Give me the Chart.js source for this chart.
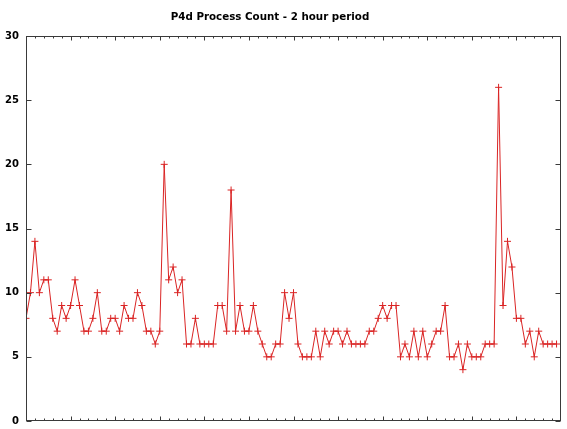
<!DOCTYPE html>
<html>
<head>
<meta charset="utf-8">
<script src="https://cdn.jsdelivr.net/npm/chart.js@4/dist/chart.umd.min.js"></script>
<style>
  html, body { margin: 0; padding: 0; background: #fff; }
  #wrap { width: 567px; height: 429px; }
</style>
</head>
<body>
<div id="wrap"><canvas id="c"></canvas></div>
<script>
// P4d process count, one sample per minute over two hours
const title = 'P4d Process Count - 2 hour period';
const counts = [
  8, 10, 14, 10, 11, 11, 8, 7, 9, 8, 9, 11, 9, 7, 7, 8, 10, 7, 7, 8, 8, 7, 9, 8, 8, 10, 9, 7, 7, 6,
  7, 20, 11, 12, 10, 11, 6, 6, 8, 6, 6, 6, 6, 9, 9, 7, 18, 7, 9, 7, 7, 9, 7, 6, 5, 5, 6, 6, 10, 8,
  10, 6, 5, 5, 5, 7, 5, 7, 6, 7, 7, 6, 7, 6, 6, 6, 6, 7, 7, 8, 9, 8, 9, 9, 5, 6, 5, 7, 5, 7,
  5, 6, 7, 7, 9, 5, 5, 6, 4, 6, 5, 5, 5, 6, 6, 6, 26, 9, 14, 12, 8, 8, 6, 7, 5, 7, 6, 6, 6, 6
];
const yTicks = [0, 5, 10, 15, 20, 25, 30];
const xMax = 120;

const red = 'rgb(218,36,36)';
const axisColor = '#3a3a3a';

// gnuplot-style frame: border, inward ticks on all four sides, title
const framePlugin = {
  id: 'frame',
  afterDraw(chart) {
    const { ctx, chartArea: a, scales } = chart;
    const L = Math.round(a.left) + 0.5, R = Math.round(a.right) - 0.5;
    const T = Math.round(a.top) + 0.5, B = Math.round(a.bottom) - 0.5;
    ctx.save();
    ctx.strokeStyle = axisColor;
    ctx.lineWidth = 1;
    ctx.strokeRect(L, T, R - L, B - T);
    ctx.beginPath();
    yTicks.forEach(v => {
      const y = Math.round(scales.y.getPixelForValue(v)) + 0.5;
      ctx.moveTo(L, y); ctx.lineTo(L + 5, y);
      ctx.moveTo(R, y); ctx.lineTo(R - 5, y);
    });
    for (let v = 2; v < xMax; v += 2) {
      const x = Math.round(scales.x.getPixelForValue(v)) + 0.5;
      const len = v % 10 === 0 ? 4 : 2;
      ctx.moveTo(x, B); ctx.lineTo(x, B - len);
      ctx.moveTo(x, T); ctx.lineTo(x, T + len);
    }
    ctx.stroke();
    ctx.fillStyle = '#000';
    ctx.font = 'bold 10.3px "DejaVu Sans"';
    ctx.textAlign = 'center';
    ctx.textBaseline = 'middle';
    ctx.fillText(title, 270, 17.5);
    ctx.restore();
  }
};

new Chart(document.getElementById('c'), {
  type: 'line',
  data: {
    datasets: [{
      data: counts.map((v, i) => ({ x: i, y: v })),
      borderColor: red,
      borderWidth: 1,
      pointStyle: 'cross',
      pointRadius: 3.5,
      pointBorderColor: red,
      pointBorderWidth: 1,
      tension: 0,
      fill: false,
    }],
  },
  plugins: [framePlugin],
  options: {
    responsive: true,
    maintainAspectRatio: false,
    animation: false,
    layout: { padding: { top: 36, right: 6, bottom: 8, left: 0 } },
    plugins: { legend: { display: false }, tooltip: { enabled: false } },
    scales: {
      x: { type: 'linear', min: 0, max: xMax, display: false },
      y: {
        min: 0, max: 30,
        afterFit: s => { s.width = 26; s.paddingTop = 0; s.paddingBottom = 0; },
        afterBuildTicks: s => { s.ticks = yTicks.map(v => ({ value: v })); },
        grid: { display: false, drawTicks: false },
        border: { display: false },
        ticks: { color: '#000', padding: 7, font: { family: 'DejaVu Sans', weight: 'bold', size: 10 } },
      },
    },
  },
});
</script>
</body>
</html>
